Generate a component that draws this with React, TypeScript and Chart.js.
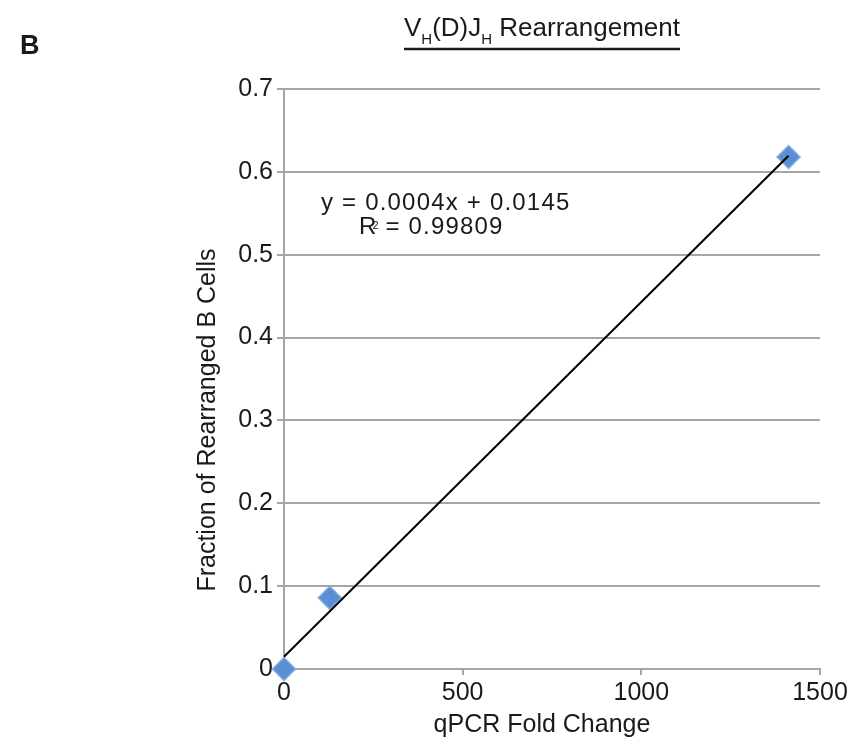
import { useEffect, useRef } from "react";
import { Chart, registerables } from "chart.js";

Chart.register(...registerables);

const panelLabel = "B";
const titleMain = "V";
const titleSub = "H";
const titleMid = "(D)J";
const titleEnd = " Rearrangement";
const xAxisTitle = "qPCR Fold Change";
const yAxisTitle = "Fraction of Rearranged B Cells";
const equationLine = "y = 0.0004x + 0.0145";
const rLabel = "R";
const rSup = "2";
const rValue = " = 0.99809";

const foldChange = [0, 128, 1412];
const fraction = [0, 0.086, 0.618];

const xMin = 0;
const xMax = 1500;
const xStep = 500;
const yMin = 0;
const yMax = 0.7;
const yStep = 0.1;

const FONT = "'Liberation Sans', Arial, sans-serif";

function fit(xs: number[], ys: number[]) {
  const n = xs.length;
  const mx = xs.reduce((a, b) => a + b, 0) / n;
  const my = ys.reduce((a, b) => a + b, 0) / n;
  let sxy = 0;
  let sxx = 0;
  for (let i = 0; i < n; i++) {
    sxy += (xs[i] - mx) * (ys[i] - my);
    sxx += (xs[i] - mx) * (xs[i] - mx);
  }
  const slope = sxy / sxx;
  return { slope, intercept: my - slope * mx };
}

const textPlugin = {
  id: "texts",
  afterDraw(chart: any) {
    const ctx = chart.ctx as CanvasRenderingContext2D;
    ctx.save();
    ctx.fillStyle = "#1a1a1a";
    ctx.textBaseline = "alphabetic";

    // panel label
    ctx.font = `bold 27px ${FONT}`;
    ctx.textAlign = "left";
    ctx.fillText(panelLabel, 20, 54);

    // title with subscripts
    const big = `26px ${FONT}`;
    const small = `15px ${FONT}`;
    const parts: [string, string, number][] = [
      [titleMain, big, 0],
      [titleSub, small, 8],
      [titleMid, big, 0],
      [titleSub, small, 8],
      [titleEnd, big, 0],
    ];
    let x = 404;
    const baseY = 36;
    const startX = x;
    for (const [t, f, dy] of parts) {
      ctx.font = f;
      ctx.fillText(t, x, baseY + dy);
      x += ctx.measureText(t).width;
    }
    ctx.strokeStyle = "#1a1a1a";
    ctx.lineWidth = 2.5;
    ctx.beginPath();
    ctx.moveTo(startX, 49);
    ctx.lineTo(680, 49);
    ctx.stroke();

    // equation
    (ctx as any).letterSpacing = "1.2px";
    ctx.font = `24px ${FONT}`;
    ctx.textAlign = "left";
    ctx.fillText(equationLine, 321, 210);
    let rx = 359;
    ctx.fillText(rLabel, rx, 234);
    rx += ctx.measureText(rLabel).width;
    ctx.font = `11px ${FONT}`;
    ctx.fillText(rSup, rx - 5, 229);
    ctx.font = `24px ${FONT}`;
    ctx.fillText(rValue, rx, 234);
    (ctx as any).letterSpacing = "0px";

    // axis titles
    ctx.font = `25px ${FONT}`;
    ctx.textAlign = "center";
    ctx.fillText(xAxisTitle, 542, 732);
    ctx.save();
    ctx.translate(215, 420);
    ctx.rotate(-Math.PI / 2);
    ctx.fillText(yAxisTitle, 0, 0);
    ctx.restore();

    ctx.restore();
  },
};

export default function App() {
  const ref = useRef<HTMLCanvasElement | null>(null);

  useEffect(() => {
    if (!ref.current) return;
    const { slope, intercept } = fit(foldChange, fraction);
    const lineX = [Math.min(...foldChange), Math.max(...foldChange)];
    const trend = lineX.map((v) => ({ x: v, y: slope * v + intercept }));
    const pts = foldChange.map((v, i) => ({ x: v, y: fraction[i] }));

    const chart = new Chart(ref.current, {
      type: "scatter",
      data: {
        datasets: [
          {
            label: "trend",
            data: trend,
            showLine: true,
            borderColor: "#000000",
            borderWidth: 2,
            pointRadius: 0,
            clip: false as any,
          },
          {
            label: "points",
            data: pts,
            pointStyle: "rectRot",
            pointRadius: 11.5,
            backgroundColor: "#5b8ed3",
            borderColor: "#86ade2",
            borderWidth: 1.5,
            clip: false as any,
          },
        ],
      },
      options: {
        responsive: false,
        animation: false,
        layout: { padding: { top: 89, right: 42, left: 0, bottom: 0 } },
        plugins: {
          legend: { display: false },
          tooltip: { enabled: false },
        },
        scales: {
          x: {
            type: "linear",
            min: xMin,
            max: xMax,
            afterFit: (s: any) => {
              s.height = 78;
            },
            ticks: {
              stepSize: xStep,
              font: { family: FONT, size: 25 },
              color: "#1a1a1a",
              padding: 3,
              maxRotation: 0,
              callback: (v: any) => String(v),
            },
            grid: {
              display: true,
              drawOnChartArea: false,
              color: "#a6a6a6",
              lineWidth: 2,
              tickLength: 6,
            },
            border: { display: true, color: "#a6a6a6", width: 2 },
          },
          y: {
            type: "linear",
            min: yMin,
            max: yMax,
            afterFit: (s: any) => {
              s.width = 284;
            },
            ticks: {
              stepSize: yStep,
              font: { family: FONT, size: 25 },
              color: "#1a1a1a",
              padding: 4,
              callback: (v: any) => {
                const n = Math.round(Number(v) * 10) / 10;
                return n === 0 ? "0" : n.toFixed(1);
              },
            },
            grid: {
              color: "#a6a6a6",
              lineWidth: 2,
              tickLength: 7,
            },
            border: { display: true, color: "#a6a6a6", width: 2 },
          },
        },
      },
      plugins: [textPlugin],
    });
    return () => chart.destroy();
  }, []);

  return (
    <div style={{ position: "absolute", left: 0, top: 0, width: 862, height: 747, background: "#fff" }}>
      <canvas ref={ref} width={862} height={747} />
    </div>
  );
}
